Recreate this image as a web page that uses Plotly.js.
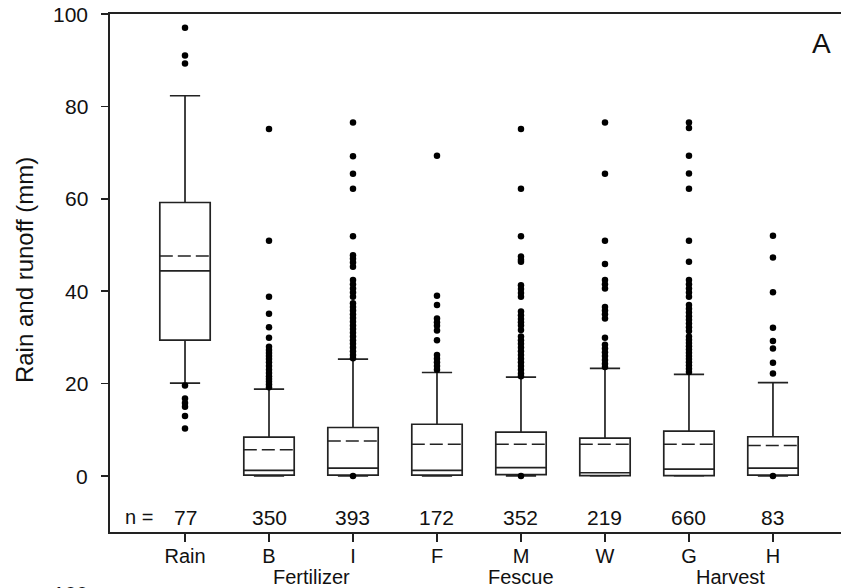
<!DOCTYPE html>
<html>
<head>
<meta charset="utf-8">
<script src="https://cdn.plot.ly/plotly-3.0.1.min.js"></script>
<style>html,body{margin:0;padding:0;background:#fff;}#chart{width:841px;height:588px;}</style>
</head>
<body>
<div id="chart"></div>
<script>
// ---- data ----
const categories = ["Rain", "B", "I", "F", "M", "W", "G", "H"];
const counts = [77, 350, 393, 172, 352, 219, 660, 83];
const q1 = [29.4, 0.2, 0.2, 0.2, 0.3, 0.1, 0.1, 0.2];
const medians = [44.4, 1.2, 1.7, 1.2, 1.8, 0.7, 1.5, 1.7];
const q3 = [59.2, 8.4, 10.5, 11.2, 9.5, 8.2, 9.7, 8.5];
const lowerWhisker = [20.1, 0, 0, 0, 0, 0, 0, 0];
const upperWhisker = [82.3, 18.8, 25.3, 22.4, 21.4, 23.3, 22.0, 20.2];
const means = [47.6, 5.7, 7.6, 6.9, 6.9, 6.9, 6.9, 6.6];

const outRain = [97.0, 91.0, 89.3, 19.6, 16.8, 15.8, 15.0, 13.0, 10.3];
const outB = [75.1, 50.9, 38.8, 35.1, 32.2, 29.9, 28.0, 27.3, 26.6, 26.0, 25.3, 24.6, 23.8, 23.0, 22.3, 21.6, 21.0, 20.4, 19.8, 19.2];
const outI = [76.5, 69.2, 65.4, 62.2, 51.9, 47.8, 47.0, 46.2, 45.3, 42.4, 41.5, 40.6, 39.7, 38.8, 37.4, 36.6, 35.8, 35.0, 34.2, 33.4, 32.6, 31.8, 31.0, 30.2, 29.4, 28.6, 27.8, 27.0, 26.2, 25.5, 0];
const outF = [69.3, 39.0, 37.0, 34.1, 33.3, 32.5, 31.5, 29.4, 26.2, 25.4, 24.6, 23.8, 23.0];
const outM = [75.1, 62.2, 51.9, 47.5, 46.8, 46.4, 41.3, 40.5, 39.6, 38.8, 35.6, 34.8, 34.0, 33.3, 32.6, 31.6, 30.2, 29.4, 28.6, 27.8, 27.0, 26.2, 25.4, 24.6, 23.8, 23.0, 22.2, 21.6, 0];
const outW = [76.5, 65.4, 50.9, 45.9, 42.4, 41.5, 40.6, 36.6, 35.8, 35.0, 34.1, 29.9, 28.4, 27.6, 26.8, 26.0, 25.1, 24.3, 23.6];
const outG = [76.5, 75.3, 69.3, 65.5, 62.2, 50.9, 46.4, 42.4, 41.5, 40.6, 39.7, 38.8, 37.0, 36.2, 35.4, 34.6, 33.8, 33.0, 32.2, 31.4, 30.2, 29.5, 28.8, 28.1, 27.4, 26.7, 26.0, 25.3, 24.6, 23.9, 23.2, 22.5];
const outH = [52.0, 47.3, 39.8, 32.1, 29.2, 27.6, 24.5, 22.2, 0];
const outliers = [outRain, outB, outI, outF, outM, outW, outG, outH];

const groupLabels = ["Fertilizer", "Fescue", "Harvest"];
const groupCenters = [1.5, 4, 6.5];
const yTicks = [0, 20, 40, 60, 80, 100];
const yTitle = "Rain and runoff (mm)";
const panelLabel = "A";

// ---- build ----
const FONT = "Liberation Sans, Arial, Helvetica, sans-serif";
const ink = "#111";
const lineCol = "#222";
const idx = categories.map((c, i) => i);
const boxW = 0.6;

const traces = [];
traces.push({
  type: "box",
  x: idx,
  q1: q1, median: medians, q3: q3,
  lowerfence: lowerWhisker, upperfence: upperWhisker,
  boxpoints: false,
  width: boxW,
  whiskerwidth: 0.6,
  fillcolor: "#ffffff",
  line: {color: lineCol, width: 1.7},
  hoverinfo: "skip",
  showlegend: false
});

// mean lines (dashed)
const mx = [], my = [];
means.forEach((m, i) => { mx.push(i - boxW / 2, i + boxW / 2, null); my.push(m, m, null); });
traces.push({
  type: "scatter", mode: "lines", x: mx, y: my,
  line: {color: "#222", width: 1.5, dash: "13px,5px"},
  hoverinfo: "skip", showlegend: false
});

// outliers
const ox = [], oy = [];
outliers.forEach((arr, i) => arr.forEach(v => { ox.push(i); oy.push(v); }));
traces.push({
  type: "scatter", mode: "markers", x: ox, y: oy,
  marker: {color: "#000", size: 6.5, line: {width: 0}},
  cliponaxis: false,
  hoverinfo: "skip", showlegend: false
});

const annotations = [];
// y tick labels, placed on the y axis scale
yTicks.forEach(v => annotations.push({
  xref: "paper", yref: "y", x: -0.0274, y: v, xanchor: "right", yanchor: "middle",
  text: String(v), showarrow: false, font: {family: FONT, size: 21, color: ink}
}));
annotations.push({
  xref: "x", yref: "y", x: -0.36, y: -8.9, xanchor: "right", yanchor: "middle",
  text: "n =", showarrow: false, font: {family: FONT, size: 20, color: ink}
});
counts.forEach((n, i) => annotations.push({
  xref: "x", yref: "y", x: i, y: -8.9, xanchor: "center", yanchor: "middle",
  text: String(n), showarrow: false, font: {family: FONT, size: 21, color: ink}
}));
groupLabels.forEach((g, i) => annotations.push({
  xref: "x", yref: "paper", x: groupCenters[i], y: -0.087, xanchor: "center", yanchor: "middle",
  text: g, showarrow: false, font: {family: FONT, size: 20, color: ink}
}));
annotations.push({
  xref: "paper", yref: "paper", x: -0.116, y: 0.506, xanchor: "center", yanchor: "middle",
  textangle: -90, text: yTitle, showarrow: false, font: {family: FONT, size: 24, color: ink}
});
annotations.push({
  xref: "paper", yref: "paper", x: 0.974, y: 0.944, xanchor: "center", yanchor: "middle",
  text: panelLabel, showarrow: false, font: {family: FONT, size: 28, color: ink}
});
// top of next panel's tick label, cut by the image edge
annotations.push({
  xref: "paper", yref: "paper", x: -0.0274, y: -0.093, xanchor: "right", yanchor: "top",
  text: String(yTicks[yTicks.length - 1]), showarrow: false, font: {family: FONT, size: 21, color: ink}
});

const layout = {
  width: 841, height: 588,
  margin: {l: 110, r: 0, t: 14, b: 56, pad: 0},
  paper_bgcolor: "#fff", plot_bgcolor: "#fff",
  showlegend: false,
  xaxis: {
    range: [-0.893, 7.81],
    tickvals: idx, ticktext: categories,
    ticks: "outside", ticklen: 8, tickwidth: 1.5, tickcolor: lineCol,
    ticklabelstandoff: -3,
    showline: true, linecolor: lineCol, linewidth: 2, mirror: true,
    showgrid: false, zeroline: false,
    tickfont: {family: FONT, size: 20, color: ink},
    fixedrange: true
  },
  yaxis: {
    range: [-12.12, 100],
    tickvals: yTicks,
    showticklabels: false,
    ticks: "outside", ticklen: 7, tickwidth: 1.5, tickcolor: lineCol,
    showline: true, linecolor: lineCol, linewidth: 2,
    showgrid: false, zeroline: false,
    fixedrange: true
  },
  annotations: annotations
};

Plotly.newPlot("chart", traces, layout, {displayModeBar: false, staticPlot: true});
</script>
</body>
</html>
